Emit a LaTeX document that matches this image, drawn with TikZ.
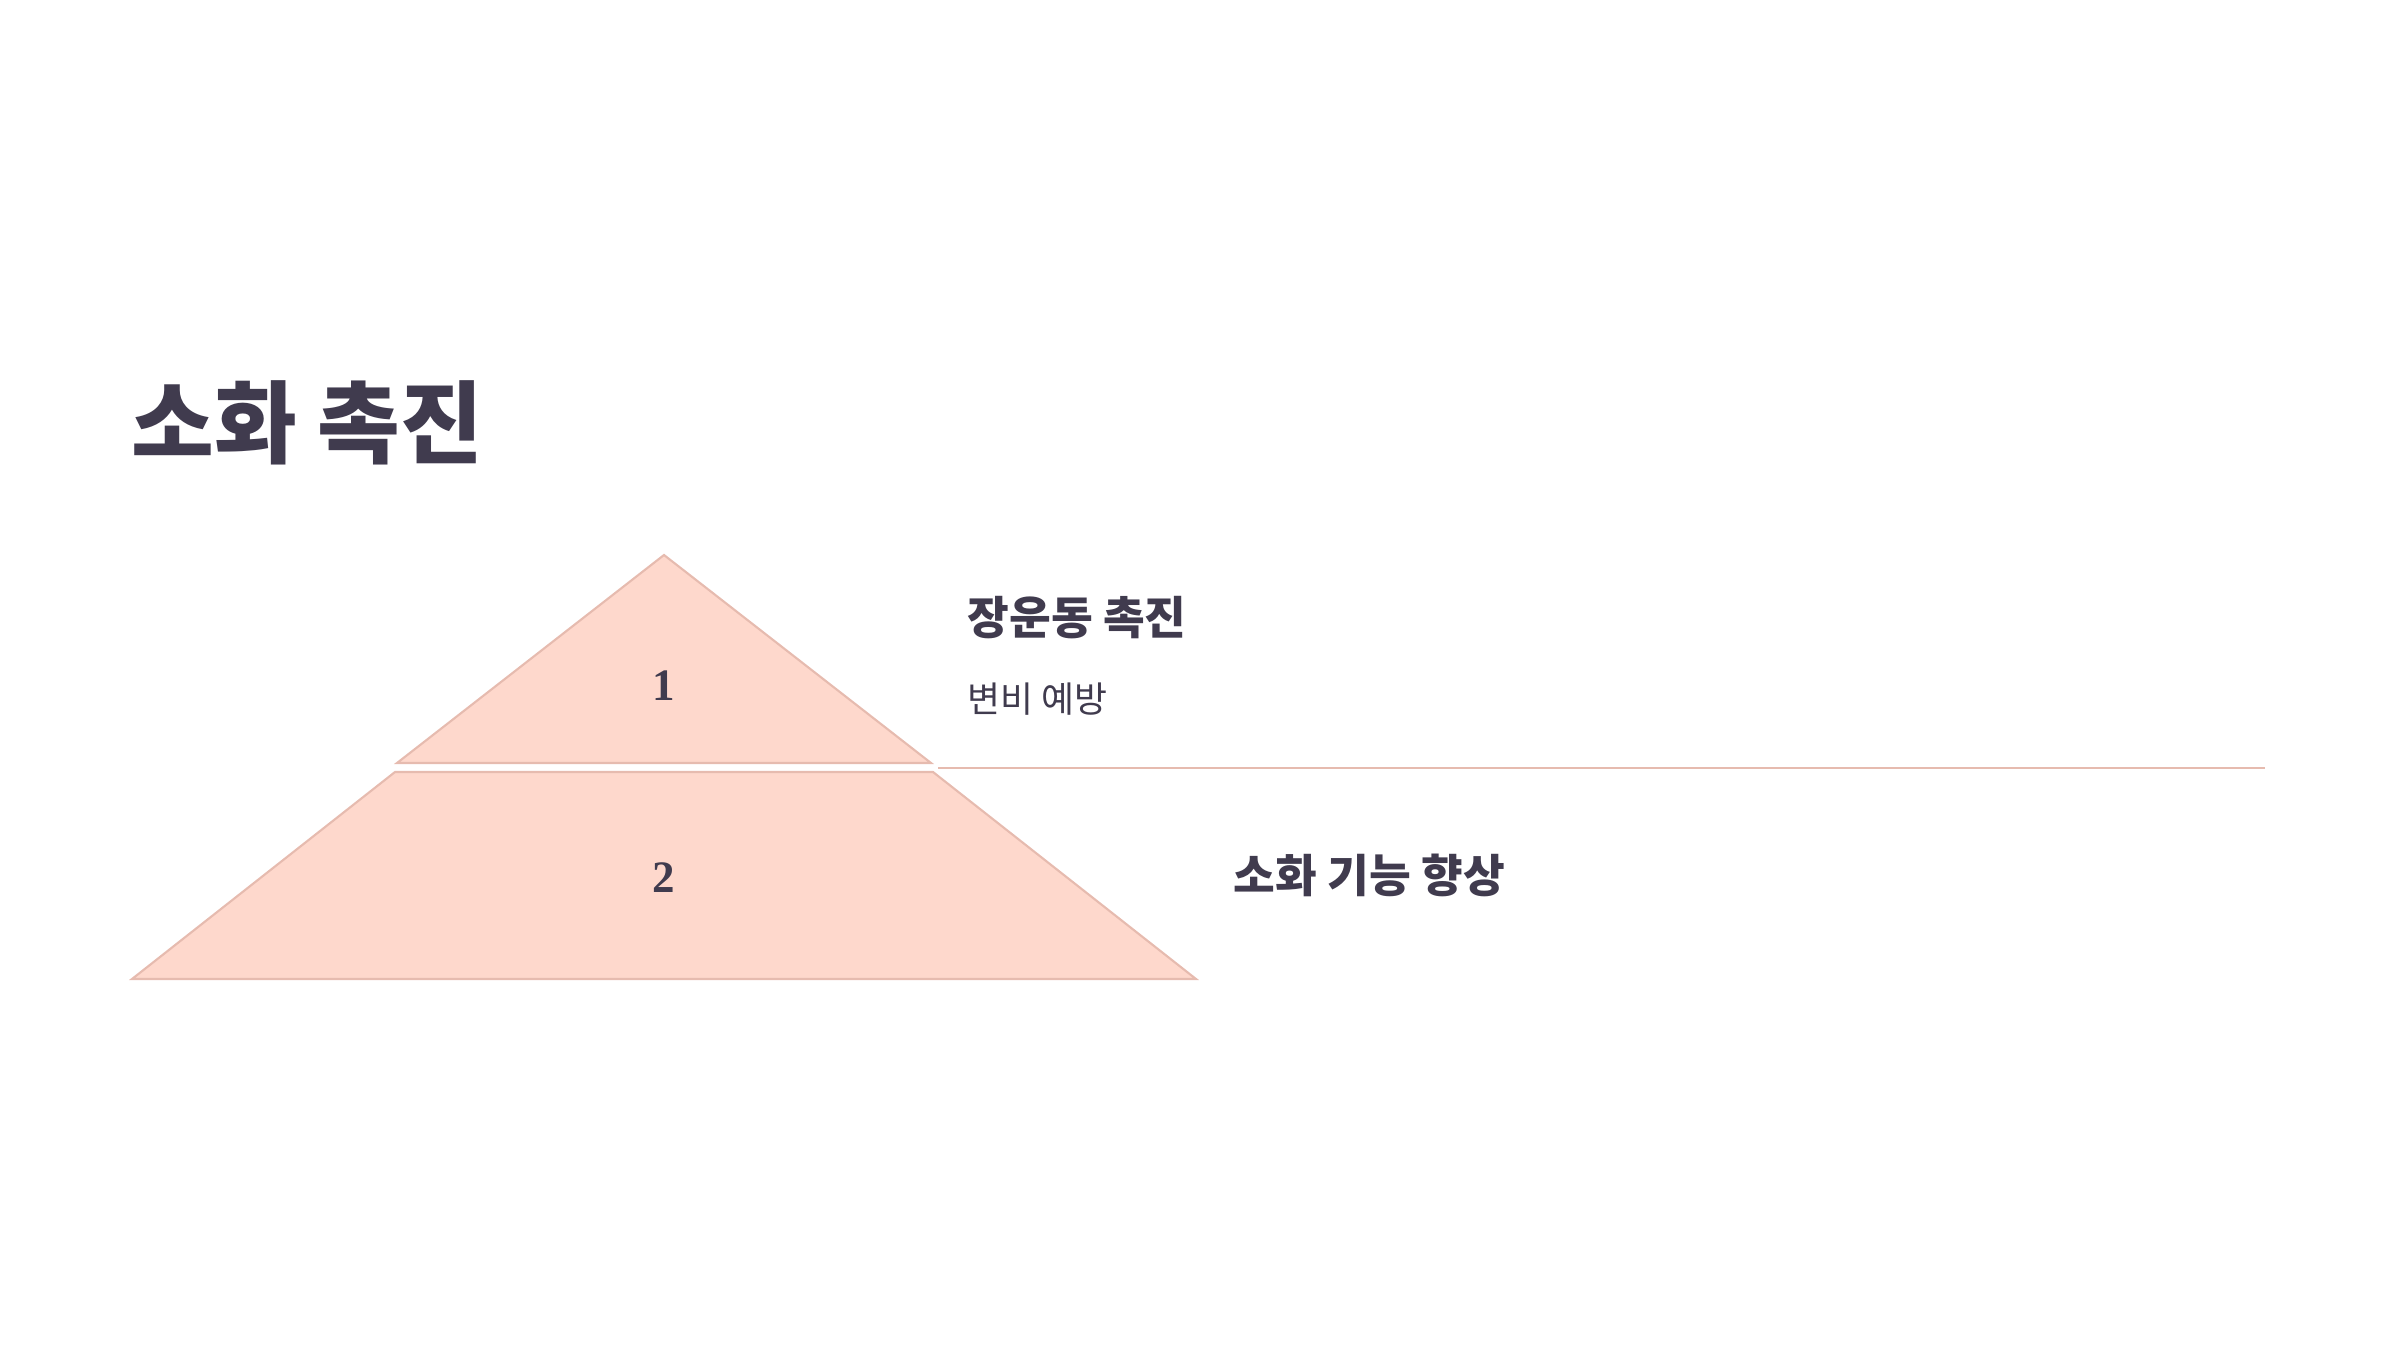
\documentclass[tikz,border=0pt]{standalone}
\usepackage{fontspec}
\usepackage{xcolor}
\usepackage{tikz}
\newfontfamily\krfont{Noto Sans CJK KR}
\newfontfamily\numfont{Liberation Serif}
\definecolor{inkdark}{HTML}{403B4E}
\definecolor{peachfill}{HTML}{FED8CC}
\definecolor{peachline}{HTML}{E6BBAF}
\tikzset{
  layer/.style={fill=peachfill,draw=peachline,line width=0.6pt,line join=miter},
  heading/.style={anchor=west,inner sep=0pt,text=inkdark,font=\krfont\bfseries\fontsize{12.9}{15}\selectfont},
  subtext/.style={anchor=west,inner sep=0pt,text=inkdark,font=\krfont\fontsize{10.2}{12}\selectfont},
  levelno/.style={inner sep=0pt,text=inkdark,font=\numfont\bfseries\fontsize{12.8}{15}\selectfont}
}
\begin{document}
\begin{tikzpicture}
\useasboundingbox (0,0) rectangle (24,13.5);
\node[anchor=west,inner sep=0pt,text=inkdark,font=\krfont\bfseries\fontsize{25.6}{30}\selectfont] (title) at (1.31,9.27) {소화 촉진};
% pyramid
\draw[layer] (6.64,7.95) -- (9.31,5.87) -- (3.97,5.87) -- cycle;
\draw[layer] (3.95,5.78) -- (9.33,5.78) -- (11.96,3.71) -- (1.32,3.71) -- cycle;
\node[levelno] (n1) at (6.64,6.64) {1};
\node[levelno] (n2) at (6.64,4.72) {2};
% separator
\coordinate (sepL) at (9.38,5.82);
\coordinate (sepR) at (22.65,5.82);
\draw[color=peachline,line width=0.6pt] (sepL) -- (sepR);
% labels
\node[heading] (t1) at (9.67,7.32) {장운동 촉진};
\node[subtext] (s1) at (9.67,6.51) {변비 예방};
\node[heading] (t2) at (12.33,4.75) {소화 기능 향상};
\end{tikzpicture}
\end{document}
